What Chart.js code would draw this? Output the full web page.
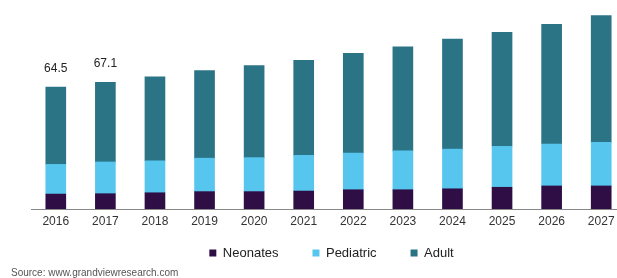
<!DOCTYPE html>
<html>
<head>
<meta charset="utf-8">
<script src="https://cdn.jsdelivr.net/npm/chart.js@4"></script>
<style>
  body { margin: 0; width: 617px; height: 278px; overflow: hidden; background: #fff; position: relative; }
  #wrap { position: absolute; left: 0; top: 0; width: 660px; height: 286px; }
  #source { position: absolute; left: 11px; top: 267px; font: 10px "Liberation Sans", Arial, sans-serif; color: #555; white-space: nowrap; }
</style>
</head>
<body>
<div id="wrap"><canvas id="chart" width="660" height="286"></canvas></div>
<div id="source">Source: www.grandviewresearch.com</div>
<script>
// 연도별 카테고리
const years = ['2016', '2017', '2018', '2019', '2020', '2021', '2022', '2023', '2024', '2025', '2026', '2027'];

// 시리즈 값
const neonates = [7.9, 8.1, 8.6, 9.2, 9.2, 9.5, 10.2, 10.2, 10.7, 11.5, 12.2, 12.2];
const pediatric = [15.7, 16.8, 16.9, 17.7, 18.0, 18.9, 19.4, 20.6, 21.0, 21.7, 22.2, 23.1];
const adult = [40.9, 42.2, 44.5, 46.4, 48.7, 50.3, 52.8, 55.1, 58.2, 60.3, 63.4, 67.1];

// 막대 위에 표시되는 합계 라벨
const totalLabels = ['64.5', '67.1'];

const font = '"Liberation Sans", Arial, sans-serif';

// 합계 라벨 그리기
const totalLabelPlugin = {
  id: 'totalLabel',
  afterDatasetsDraw(chart) {
    const ctx = chart.ctx;
    const topMeta = chart.getDatasetMeta(chart.data.datasets.length - 1);
    ctx.save();
    ctx.font = '12px ' + font;
    ctx.fillStyle = '#222';
    ctx.textAlign = 'center';
    ctx.textBaseline = 'alphabetic';
    totalLabels.forEach((label, i) => {
      const bar = topMeta.data[i];
      ctx.fillText(label, bar.x, bar.y - 15);
    });
    ctx.restore();
  },
};

// 범례 위치를 조금 옮김 (항목 간격은 넓게, 축 라벨과는 가깝게)
const legendShiftPlugin = {
  id: 'legendShift',
  afterLayout(chart) {
    const lg = chart.legend;
    lg.top -= 16.5;
    lg.bottom -= 16.5;
    lg.left += 3;
    lg.right += 3;
  },
};

new Chart(document.getElementById('chart'), {
  type: 'bar',
  data: {
    labels: years,
    datasets: [
      { label: 'Neonates', data: neonates, backgroundColor: '#2f0e46' },
      { label: 'Pediatric', data: pediatric, backgroundColor: '#57c6ee' },
      { label: 'Adult', data: adult, backgroundColor: '#2b7486' },
    ],
  },
  options: {
    responsive: false,
    animation: false,
    layout: { padding: { left: 31, right: 34, top: 10, bottom: 0 } },
    datasets: { bar: { barThickness: 20 } },
    scales: {
      x: {
        stacked: true,
        grid: { display: false, drawTicks: false },
        border: { display: true, color: '#888', width: 1 },
        ticks: { color: '#333', font: { family: font, size: 12 }, padding: 5, maxRotation: 0 },
        afterFit(scale) {
          scale.height = 20;
        },
      },
      y: {
        stacked: true,
        display: false,
        min: 0,
        max: 105.35,
      },
    },
    plugins: {
      legend: {
        position: 'bottom',
        labels: {
          boxWidth: 7,
          boxHeight: 7,
          padding: 34,
          color: '#222',
          font: { family: font, size: 13 },
        },
      },
      tooltip: { enabled: false },
    },
  },
  plugins: [totalLabelPlugin, legendShiftPlugin],
});
</script>
</body>
</html>
